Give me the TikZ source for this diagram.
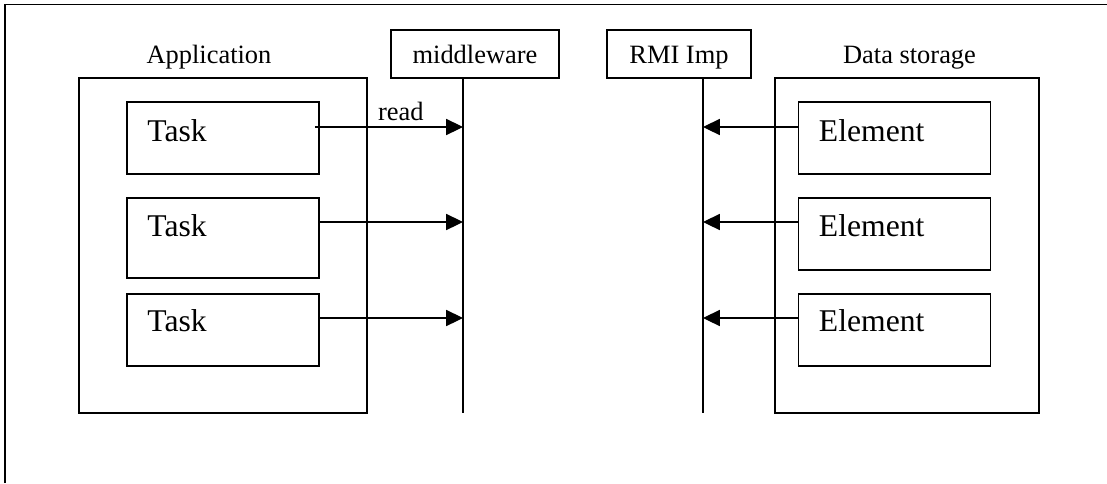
\documentclass[tikz,border=0pt]{standalone}
\usepackage{fontspec}
\setmainfont{Liberation Serif}
\usepackage{tikz}
\usetikzlibrary{arrows.meta, calc}

\newcommand{\lblfont}{\fontsize{18.8}{22}\selectfont}
\newcommand{\boxfont}{\fontsize{22.5}{26}\selectfont}

\begin{document}
\begin{tikzpicture}[
    x=0.025cm, y=-0.025cm,
    groupbox/.style={rectangle, draw=black, line width=1.1pt, inner sep=0pt, minimum height=8.375cm},
    itembox/.style={rectangle, draw=black, line width=1.1pt, inner sep=0pt, minimum width=4.8cm, minimum height=1.8cm},
    sysbox/.style={rectangle, draw=black, line width=1.1pt, inner sep=0pt, minimum height=1.2cm, text height=12.8pt, text depth=0pt, font=\lblfont},
    grouplabel/.style={font=\lblfont, anchor=base, inner sep=0pt},
    itemtext/.style={font=\boxfont, anchor=base west, inner sep=0pt},
    lifeline/.style={line width=0.8pt},
    message/.style={-{Triangle[length=12pt, width=11.5pt]}, line width=0.8pt},
    frame/.style={line width=1.4pt}
    ]
    \useasboundingbox (0,0) rectangle (1107,483);

    % outer frame (only top and left edges show)
    \draw[frame] (5,483) -- (5,4.5) -- (1107,4.5);

    % application side
    \node[groupbox, minimum width=7.2cm] (app) at (223,245.5) {};
    \node[grouplabel] (applbl) at (209,63) {Application};
    \node[itembox] (task1) at (223,138) {};
    \node[itembox, minimum height=2cm] (task2) at (223,238) {};
    \node[itembox] (task3) at (223,330) {};
    \node[itemtext] (task1txt) at ($(task1.north west)+(21,40)$) {Task};
    \node[itemtext] (task2txt) at ($(task2.north west)+(21,39)$) {Task};
    \node[itemtext] (task3txt) at ($(task3.north west)+(21,38)$) {Task};

    % middleware and RMI
    \node[sysbox, minimum width=4.2cm] (mid) at (475,54) {middleware};
    \node[sysbox, minimum width=3.6cm] (rmi) at (679,54) {RMI Imp};
    \coordinate (midtop) at (463,78);
    \coordinate (midbot) at (463,413);
    \coordinate (rmitop) at (703,78);
    \coordinate (rmibot) at (703,413);
    \draw[lifeline] (midtop) -- (midbot);
    \draw[lifeline] (rmitop) -- (rmibot);

    % data storage side
    \node[groupbox, minimum width=6.6cm] (store) at (907,245.5) {};
    \node[grouplabel] (storelbl) at (909.5,63) {Data storage};
    \node[itembox] (elem1) at (894.5,138) {};
    \node[itembox] (elem2) at (894.5,234) {};
    \node[itembox] (elem3) at (894.5,330) {};
    \node[itemtext] (elem1txt) at ($(elem1.north west)+(21,40)$) {Element};
    \node[itemtext] (elem2txt) at ($(elem2.north west)+(21,39)$) {Element};
    \node[itemtext] (elem3txt) at ($(elem3.north west)+(21,38)$) {Element};

    % reads towards middleware
    \path ($(task1.east)+(-5,-11)$) coordinate (r1);
    \path ($(task2.east)+(0,-16)$) coordinate (r2);
    \path ($(task3.east)+(0,-12)$) coordinate (r3);
    \draw[message] (r1) -- node[pos=0.58, above=4pt, font=\lblfont, inner sep=0pt] (readlbl) {read} (r1 -| midtop);
    \draw[message] (r2) -- (r2 -| midtop);
    \draw[message] (r3) -- (r3 -| midtop);

    % elements towards RMI
    \path ($(elem1.west)+(0,-11)$) coordinate (e1);
    \path ($(elem2.west)+(0,-12)$) coordinate (e2);
    \path ($(elem3.west)+(0,-12)$) coordinate (e3);
    \draw[message] (e1) -- (e1 -| rmitop);
    \draw[message] (e2) -- (e2 -| rmitop);
    \draw[message] (e3) -- (e3 -| rmitop);
\end{tikzpicture}
\end{document}
